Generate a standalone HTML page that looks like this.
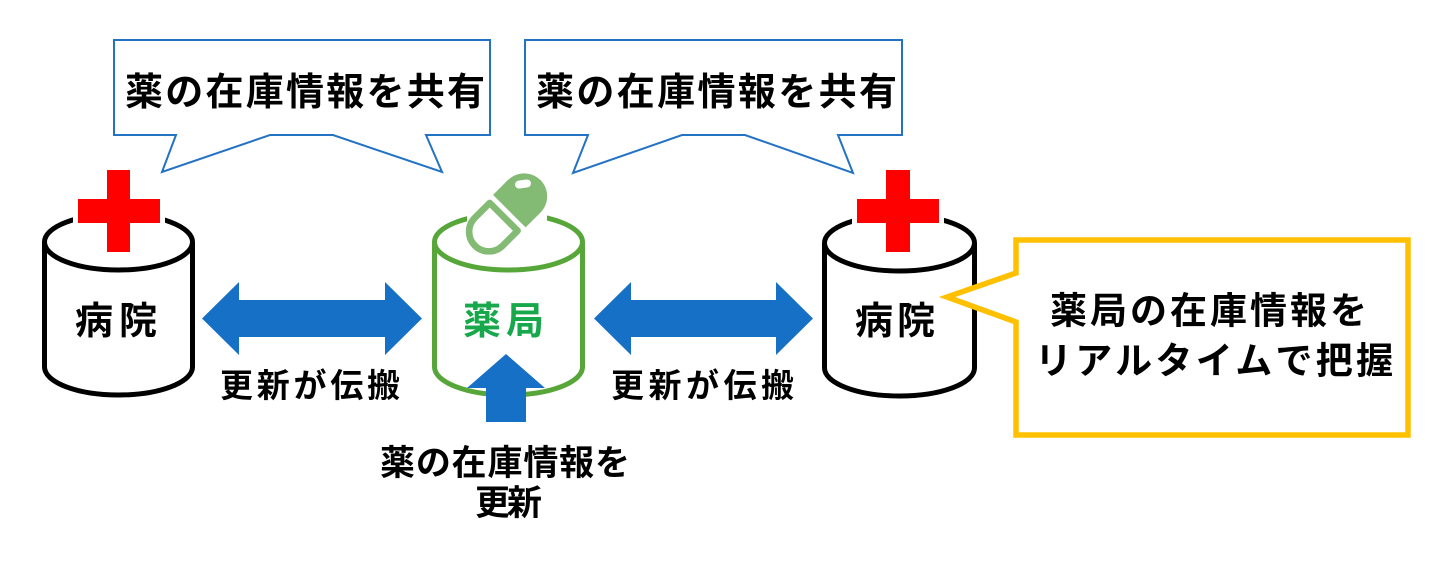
<!DOCTYPE html>
<html>
<head>
<meta charset="utf-8">
<style>
  html,body{margin:0;padding:0;background:#fff;}
  svg{display:block;}
  text{font-family:"Liberation Sans","Noto Sans CJK JP",sans-serif;font-weight:bold;fill:#000;}
</style>
</head>
<body>
<svg width="1452" height="576" viewBox="0 0 1452 576" xmlns="http://www.w3.org/2000/svg">
  <rect x="0" y="0" width="1452" height="576" fill="#fff"/>

  <!-- Top callouts -->
  <path d="M114,40 H490 V135 H426 L442,172 L333,135 H270 L162,172 L176,135 H114 Z" fill="#fff" stroke="#2372c4" stroke-width="2" stroke-linejoin="miter"/>
  <path d="M525,40 H902 V135 H838 L853,173 L745,135 H682 L573,173 L588,135 H525 Z" fill="#fff" stroke="#2372c4" stroke-width="2" stroke-linejoin="miter"/>
  <text x="125" y="105" font-size="38" textLength="360" lengthAdjust="spacing">薬の在庫情報を共有</text>
  <text x="536" y="105" font-size="38" textLength="361" lengthAdjust="spacing">薬の在庫情報を共有</text>

  <!-- Left hospital cylinder -->
  <ellipse cx="118.5" cy="242" rx="74" ry="28" fill="none" stroke="#000" stroke-width="5"/>
  <path d="M44.5,242 V367 A74,28 0 0 0 192.5,367 V242" fill="none" stroke="#000" stroke-width="5"/>
  <rect x="73" y="200" width="92" height="27" fill="#fff"/>
  <rect x="107" y="170" width="23" height="82" fill="#ff0000"/>
  <rect x="78" y="199" width="82" height="24" fill="#ff0000"/>
  <text x="75" y="334" font-size="38" textLength="82" lengthAdjust="spacing">病院</text>

  <!-- Right hospital cylinder -->
  <ellipse cx="899.5" cy="243" rx="75" ry="28" fill="none" stroke="#000" stroke-width="5"/>
  <path d="M824.5,243 V368 A75,28 0 0 0 974.5,368 V243" fill="none" stroke="#000" stroke-width="5"/>
  <rect x="852" y="200" width="92" height="28" fill="#fff"/>
  <rect x="886" y="170" width="24" height="82" fill="#ff0000"/>
  <rect x="857" y="199" width="82" height="24" fill="#ff0000"/>
  <text x="855" y="334" font-size="38" textLength="80" lengthAdjust="spacing">病院</text>

  <!-- Pharmacy cylinder -->
  <ellipse cx="508.5" cy="242" rx="74" ry="28" fill="none" stroke="#57a639" stroke-width="5"/>
  <path d="M434.5,242 V367 A74,28 0 0 0 582.5,367 V242" fill="none" stroke="#57a639" stroke-width="5"/>
  <rect x="467" y="198" width="80" height="28" fill="#fff"/>
  <!-- Pill -->
  <g transform="translate(506.5,214) rotate(-45)">
    <path d="M4,-23 L25,-23 A23,23 0 0 1 25,23 L4,23 Z" fill="#84bb74"/>
    <path d="M-4,-19.7 L-25,-19.7 A19.7,19.7 0 0 0 -25,19.7 L-4,19.7 Z" fill="none" stroke="#84bb74" stroke-width="6.6" stroke-linejoin="round"/>
  </g>
  <rect x="515" y="180" width="16" height="8" rx="4" ry="4" fill="#fff" transform="rotate(-8 523 184)"/>
  <text x="463" y="334" font-size="38" textLength="81" lengthAdjust="spacing" style="fill:#18a84c">薬局</text>

  <!-- Blue arrows -->
  <polygon points="202,318.5 239,282 239,300 385,300 385,282 422,318.5 385,355 385,337 239,337 239,355" fill="#1670c6"/>
  <polygon points="594,318.5 631,282 631,300 776,300 776,282 813,318.5 776,355 776,337 631,337 631,355" fill="#1670c6"/>
  <polygon points="506,354 545,388 526,388 526,422 486,422 486,388 467,388" fill="#1670c6"/>

  <text x="220" y="397" font-size="33" textLength="180" lengthAdjust="spacing">更新が伝搬</text>
  <text x="611" y="397" font-size="33" textLength="183" lengthAdjust="spacing">更新が伝搬</text>

  <text x="380" y="475" font-size="35" textLength="250" lengthAdjust="spacing">薬の在庫情報を</text>
  <text x="475" y="515" font-size="35" textLength="67" lengthAdjust="spacing">更新</text>

  <!-- Yellow callout -->
  <path d="M1016,240 H1408 V435 H1016 V322 L947,297 L1016,273 Z" fill="#fff" stroke="#ffc000" stroke-width="5.5" stroke-linejoin="miter"/>
  <text x="1050" y="323.5" font-size="37" textLength="317" lengthAdjust="spacing">薬局の在庫情報を</text>
  <text x="1035" y="373.5" font-size="37" textLength="358" lengthAdjust="spacing">リアルタイムで把握</text>
</svg>
</body>
</html>
